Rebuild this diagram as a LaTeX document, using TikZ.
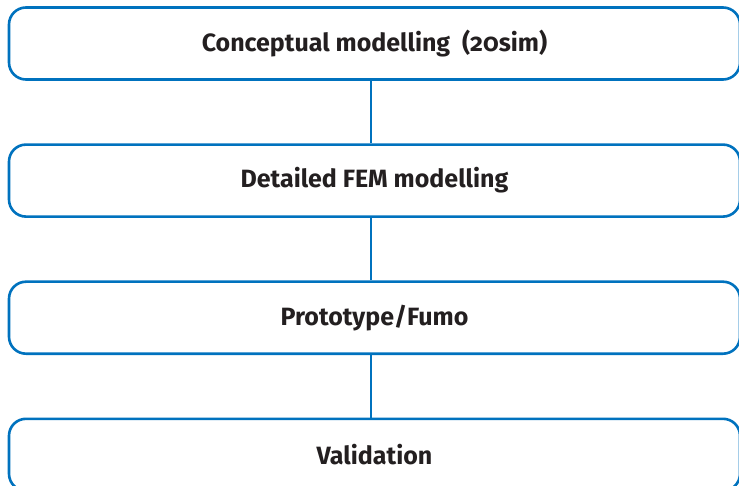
\documentclass[tikz,border=0pt]{standalone}
\usepackage{fontspec}
\setmainfont{Fira Sans}[Numbers=OldStyle]
\usepackage{tikz}
\usetikzlibrary{positioning}
\usepackage{xcolor}
\definecolor{phblue}{RGB}{0,114,190}
\definecolor{phtext}{RGB}{35,31,32}
\tikzstyle{stagebox} = [rectangle, rounded corners=17pt, minimum width=731pt, minimum height=72pt, text centered, draw=phblue, line width=2.6pt, text=phtext, font=\fontsize{25}{29}\selectfont\bfseries]
\tikzstyle{link} = [line width=2.6pt, color=phblue]

\begin{document}
\begin{tikzpicture}[x=1pt, y=-1pt, node distance=62.5pt]
\useasboundingbox (0,0) rectangle (739,486);
% Stages
\node (concept) [stagebox] at (374.5,43.5) {Conceptual modelling\ \ (20sim)};
\node (fem) [stagebox, below=of concept] {Detailed FEM modelling};
\node (proto) [stagebox, below=of fem] {Prototype/Fumo};
\node (valid) [stagebox, below=of proto] {Validation};

% Links
\draw[link] (concept.south -| 371,0) -- (fem.north -| 371,0);
\draw[link] (fem.south -| 371,0) -- (proto.north -| 371,0);
\draw[link] (proto.south -| 371,0) -- (valid.north -| 371,0);
\end{tikzpicture}
\end{document}
